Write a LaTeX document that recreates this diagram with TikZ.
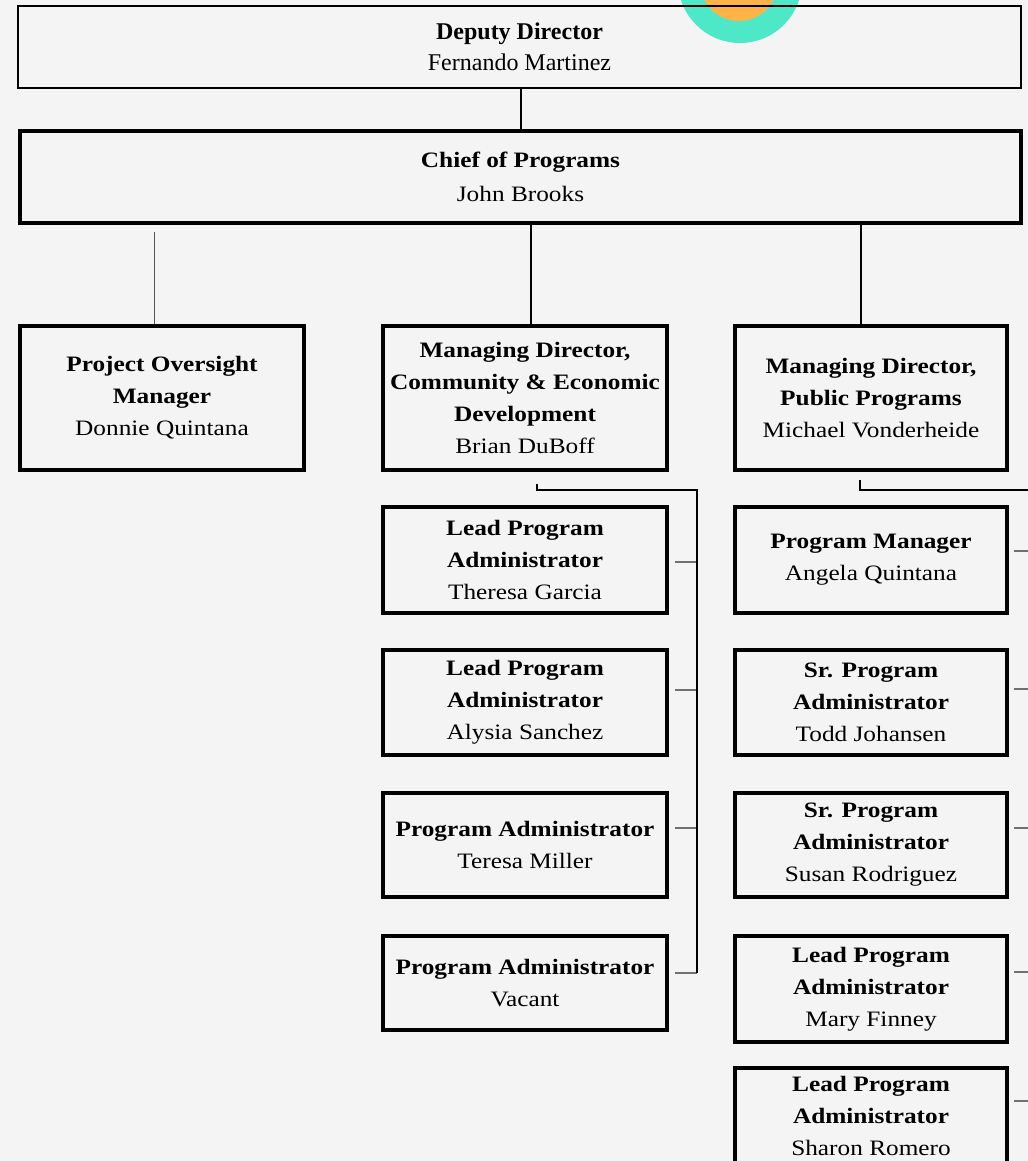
\documentclass[tikz,border=0pt]{standalone}
\usepackage{fontspec}
\setmainfont{Liberation Serif}
\newfontfamily\cambria[FakeStretch=1.15]{Liberation Serif}
\definecolor{bgcol}{HTML}{F4F4F4}
\definecolor{ringcol}{HTML}{4DE8C8}
\definecolor{dotcol}{HTML}{FFB347}
\definecolor{tickcol}{HTML}{707070}
\definecolor{thincol}{HTML}{555555}

\begin{document}
\begin{tikzpicture}[x=0.75pt, y=-0.75pt,
        topbox/.style={rectangle, draw, line width=1.5pt, align=center,
            font=\fontsize{18}{23}\selectfont,
            minimum width=1003*0.75pt, minimum height=82*0.75pt},
        orgbox/.style={rectangle, draw, line width=3pt, align=center,
            font=\cambria\fontsize{16.5}{24}\selectfont,
            minimum width=284*0.75pt, minimum height=106*0.75pt},
        link/.style={line width=1.5pt},
        thinlink/.style={line width=0.75pt, thincol},
        tick/.style={line width=1.5pt, tickcol}]
        \useasboundingbox (0,0) rectangle (1028,1161);
        \clip (0,0) rectangle (1028,1161);
        \fill[bgcol] (0,0) rectangle (1028,1161);
        % logo ring behind the top box
        \fill[ringcol] (740,-19) circle (62);
        \fill[dotcol] (739,-18) circle (39);

        \node [topbox, name=dep] at (519.5, 47) {\textbf{Deputy Director}\\Fernando Martinez};
        \node [orgbox, name=chief, minimum width=1001*0.75pt, minimum height=92*0.75pt,
            font=\cambria\fontsize{16.5}{25}\selectfont] at (520.5, 177) {\textbf{Chief of Programs}\\John Brooks};

        \node [orgbox, name=pom, minimum height=144*0.75pt] at (162, 398) {\textbf{Project Oversight}\\\textbf{Manager}\\Donnie Quintana};
        \node [orgbox, name=mdced, minimum height=144*0.75pt] at (525, 398) {\textbf{Managing Director,}\\\textbf{Community \& Economic}\\\textbf{Development}\\Brian DuBoff};
        \node [orgbox, name=mdpp, minimum width=272*0.75pt, minimum height=144*0.75pt] at (871, 398) {\textbf{Managing Director,}\\\textbf{Public Programs}\\Michael Vonderheide};

        % community & economic development
        \node [orgbox, name=lpa1] at (525, 560) {\textbf{Lead Program}\\\textbf{Administrator}\\Theresa Garcia};
        \node [orgbox, name=lpa2, minimum height=105*0.75pt] at (525, 702.5) {\textbf{Lead Program}\\\textbf{Administrator}\\Alysia Sanchez};
        \node [orgbox, name=pa1, minimum height=104*0.75pt] at (525, 845) {\textbf{Program Administrator}\\Teresa Miller};
        \node [orgbox, name=pa2, minimum height=94*0.75pt] at (525, 983) {\textbf{Program Administrator}\\Vacant};

        % public programs
        \node [orgbox, name=pm, minimum width=272*0.75pt] at (871, 560) {\textbf{Program Manager}\\Angela Quintana};
        \node [orgbox, name=spa1, minimum width=272*0.75pt, minimum height=105*0.75pt] at (871, 702.5) {\textbf{Sr. Program}\\\textbf{Administrator}\\Todd Johansen};
        \node [orgbox, name=spa2, minimum width=272*0.75pt, minimum height=104*0.75pt] at (871, 845) {\textbf{Sr. Program}\\\textbf{Administrator}\\Susan Rodriguez};
        \node [orgbox, name=lpa3, minimum width=272*0.75pt, minimum height=106*0.75pt] at (871, 989) {\textbf{Lead Program}\\\textbf{Administrator}\\Mary Finney};
        \node [orgbox, name=lpa4, minimum width=272*0.75pt, minimum height=0pt, anchor=north,
            inner ysep=6pt, text depth=60pt] at (871, 1066) {\textbf{Lead Program}\\\textbf{Administrator}\\Sharon Romero};

        \draw [line width=1.1pt] ([xshift=1pt]dep.south) -- ([xshift=1pt]dep.south |- chief.north);
        \coordinate (pomtop) at (154, 232);
        \draw [thinlink] (pomtop) -- (pomtop |- pom.north);
        \draw [link] ([xshift=4.5pt]mdced.north) -- ([xshift=4.5pt]mdced.north |- chief.south);
        \draw [link] ([xshift=-7.5pt]mdpp.north) -- ([xshift=-7.5pt]mdpp.north |- chief.south);

        \coordinate (cedbus) at (697, 490);
        \coordinate (ppbus) at (1036, 490);
        \foreach \b/\s in {lpa1/-1.5, lpa2/9.4, pa1/12.75, pa2/7.5}
            \draw [tick] ([xshift=4.5pt, yshift=\s pt]\b.east) coordinate (t\b) -- (t\b -| cedbus);
        \foreach \b/\s in {pm/6.75, spa1/10.1, spa2/12.75, lpa3/12.75}
            \draw [tick] ([xshift=3.75pt, yshift=\s pt]\b.east) coordinate (t\b) -- (t\b -| ppbus);
        \draw [tick] ([xshift=3.75pt, yshift=-26pt]lpa4.north east) coordinate (tlpa4) -- (tlpa4 -| ppbus);
        \draw [link] ([xshift=9pt, yshift=-9pt]mdced.south) |- (cedbus) -- (cedbus |- tpa2);
        \draw [link] ([xshift=-8.25pt, yshift=-6pt]mdpp.south) |- (ppbus) -- (ppbus |- tlpa4);
    \end{tikzpicture}
\end{document}
